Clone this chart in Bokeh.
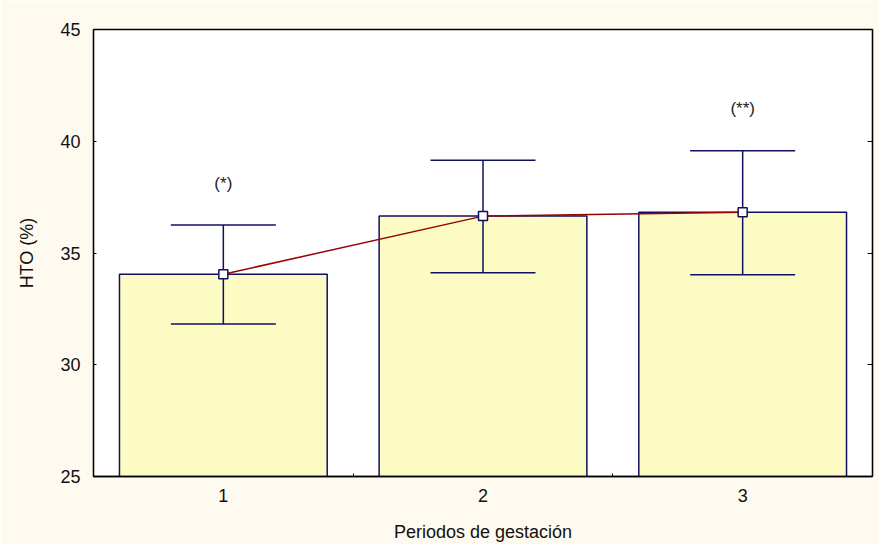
from bokeh.plotting import figure
from bokeh.models import Range1d, FixedTicker, LinearAxis, ColumnDataSource, CustomLabelingPolicy
from bokeh.core.properties import value
from bokeh.embed import file_html
from bokeh.resources import INLINE

periods = [1, 2, 3]
tick_labels = {1: "1", 2: "2", 3: "3"}
means = [34.05, 36.65, 36.82]
upper = [36.25, 39.15, 39.57]
lower = [31.82, 34.12, 34.03]
ann_x = [1, 3]
ann_y = [38.1, 41.45]
ann_text = ["(*)", "(**)"]

FONT = "Liberation Sans"
FS = "18px"
NAVY = "#101060"
BG = "#FEFAEF"

p = figure(width=879, height=544, output_backend="svg", toolbar_location=None,
           x_range=Range1d(0.5, 3.5), y_range=Range1d(25, 45),
           min_border_left=93, min_border_right=7, min_border_top=29, min_border_bottom=67)
p.background_fill_color = "white"
p.border_fill_color = BG
p.outline_line_color = "black"
p.outline_line_width = 1.3
p.grid.visible = False

src = ColumnDataSource(dict(x=periods, top=means, upper=upper, lower=lower))

p.vbar(x="x", top="top", bottom=25, width=0.8, source=src,
       fill_color="#FCFBC4", line_color=NAVY, line_width=1.5)

# error bars
p.segment(x0="x", y0="lower", x1="x", y1="upper", source=src,
          line_color=NAVY, line_width=1.5)
p.scatter(x="x", y="upper", source=src, marker="dash", size=105,
          line_color=NAVY, line_width=1.5)
p.scatter(x="x", y="lower", source=src, marker="dash", size=105,
          line_color=NAVY, line_width=1.5)

p.line(x="x", y="top", source=src, line_color="#990000", line_width=1.5)
p.scatter(x="x", y="top", source=src, marker="square", size=9,
          fill_color="white", line_color=NAVY, line_width=1.5)

p.text(x=ann_x, y=ann_y, text=ann_text, text_align="center", text_baseline="middle",
       text_font=value(FONT), text_font_size="17px", text_color="#222222")

# bottom axis
xa = p.xaxis[0]
xa.ticker = FixedTicker(ticks=periods, minor_ticks=[1.5, 2.5])
xa.major_label_overrides = tick_labels
xa.major_tick_in = 0
xa.major_tick_out = 0
xa.minor_tick_in = 3
xa.minor_tick_out = 0
xa.axis_line_color = "black"
xa.axis_line_width = 1.3
xa.major_label_standoff = 12
xa.axis_label = "Periodos de gestación"
xa.axis_label_standoff = 17

# left axis
ya = p.yaxis[0]
ya.ticker = FixedTicker(ticks=[25, 30, 35, 40, 45], minor_ticks=[])
ya.major_tick_in = 3
ya.major_tick_out = 0
ya.minor_tick_in = 0
ya.minor_tick_out = 0
ya.axis_line_width = 1.3
ya.major_label_standoff = 13
ya.axis_label = "HTO (%)"
ya.axis_label_standoff = 20

for ax in (xa, ya):
    ax.major_label_text_font = FONT
    ax.major_label_text_font_size = FS
    ax.major_label_text_color = "#111111"
    ax.axis_label_text_font = FONT
    ax.axis_label_text_font_size = FS
    ax.axis_label_text_font_style = "normal"
    ax.axis_label_text_color = "#111111"

# right axis (ticks only, labels suppressed)
ra = LinearAxis(ticker=FixedTicker(ticks=[30, 35, 40], minor_ticks=[]))
ra.major_tick_in = 5
ra.major_tick_out = 0
ra.minor_tick_in = 0
ra.minor_tick_out = 0
ra.axis_line_width = 1.3
ra.major_label_text_font_size = "0px"
ra.major_label_standoff = 0
ra.major_label_policy = CustomLabelingPolicy(
    code="for (const i of Array.from(indices)) { indices.unset(i) }; return indices")
p.add_layout(ra, "right")

html = file_html(p, INLINE)
open("out.html", "w").write(html)
